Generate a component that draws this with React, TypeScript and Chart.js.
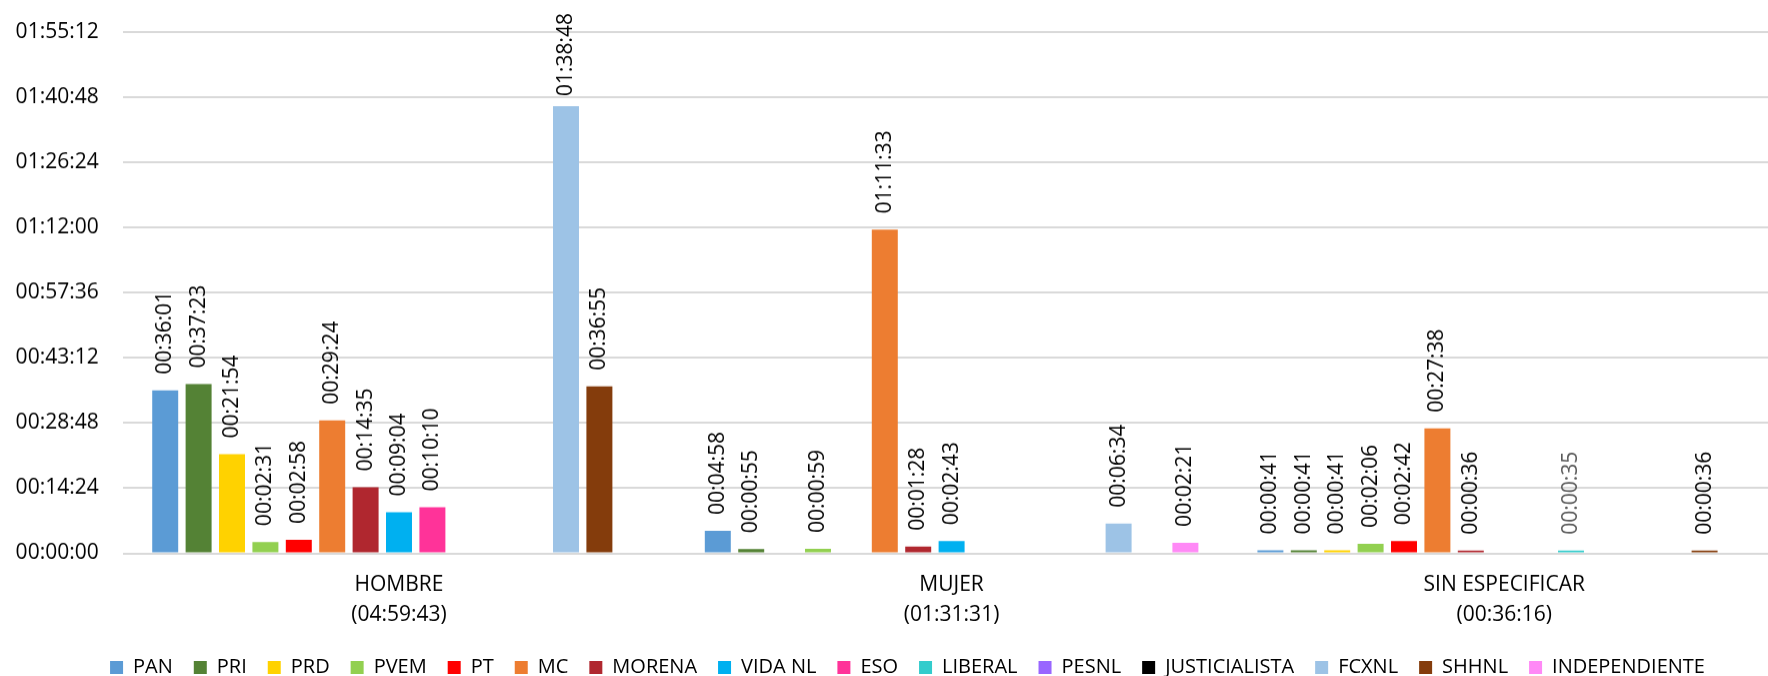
import React, { useEffect, useRef } from "react";
import { Chart, registerables } from "chart.js";

Chart.register(...registerables);

// ---------- DATA ----------
const categories = ["HOMBRE", "MUJER", "SIN ESPECIFICAR"];
const categoryTotals = ["(04:59:43)", "(01:31:31)", "(00:36:16)"];

const seriesNames = [
  "PAN", "PRI", "PRD", "PVEM", "PT", "MC", "MORENA", "VIDA NL", "ESO",
  "LIBERAL", "PESNL", "JUSTICIALISTA", "FCXNL", "SHHNL", "INDEPENDIENTE",
];

const seriesColors = [
  "#5B9BD5", "#548235", "#FFD200", "#92D050", "#FF0000", "#ED7D31", "#B0272F",
  "#00B0F0", "#FF3399", "#33CCCC", "#9966FF", "#000000", "#9DC3E6", "#843C0C",
  "#FF89F6",
];

const labelColors = [
  "#000", "#000", "#000", "#000", "#000", "#000", "#000", "#000", "#000",
  "#595959", "#000", "#000", "#000", "#000", "#000",
];

// values per category: [HOMBRE, MUJER, SIN ESPECIFICAR]
const PAN = ["00:36:01", "00:04:58", "00:00:41"];
const PRI = ["00:37:23", "00:00:55", "00:00:41"];
const PRD = ["00:21:54", null, "00:00:41"];
const PVEM = ["00:02:31", "00:00:59", "00:02:06"];
const PT = ["00:02:58", null, "00:02:42"];
const MC = ["00:29:24", "01:11:33", "00:27:38"];
const MORENA = ["00:14:35", "00:01:28", "00:00:36"];
const VIDA_NL = ["00:09:04", "00:02:43", null];
const ESO = ["00:10:10", null, null];
const LIBERAL = [null, null, "00:00:35"];
const PESNL = [null, null, null];
const JUSTICIALISTA = [null, null, null];
const FCXNL = ["01:38:48", "00:06:34", null];
const SHHNL = ["00:36:55", null, "00:00:36"];
const INDEPENDIENTE = [null, "00:02:21", null];

const seriesValues = [
  PAN, PRI, PRD, PVEM, PT, MC, MORENA, VIDA_NL, ESO,
  LIBERAL, PESNL, JUSTICIALISTA, FCXNL, SHHNL, INDEPENDIENTE,
];

const yAxisMax = "01:55:12";
const yAxisStep = "00:14:24";

// ---------- HELPERS ----------
const FONT = "'Open Sans', 'DejaVu Sans', sans-serif";

function toSec(t: string | null): number | null {
  if (t == null) return null;
  const [h, m, s] = t.split(":").map(Number);
  return h * 3600 + m * 60 + s;
}

function fmt(v: number): string {
  const n = Math.round(v);
  const h = Math.floor(n / 3600);
  const m = Math.floor((n % 3600) / 60);
  const s = n % 60;
  const p = (x: number) => String(x).padStart(2, "0");
  return `${p(h)}:${p(m)}:${p(s)}`;
}

const dataLabelPlugin = {
  id: "verticalDataLabels",
  afterDatasetsDraw(chart: any) {
    const ctx = chart.ctx;
    ctx.save();
    ctx.font = `21px ${FONT}`;
    chart.data.datasets.forEach((ds: any, di: number) => {
      const meta = chart.getDatasetMeta(di);
      if (meta.hidden) return;
      meta.data.forEach((el: any, i: number) => {
        const v = ds.data[i];
        if (v == null) return;
        const text = fmt(v);
        const w = ctx.measureText(text).width;
        let start = el.y - 16;
        if (start - w < 13) start = 13 + w;
        ctx.save();
        ctx.translate(el.x, start);
        ctx.rotate(-Math.PI / 2);
        ctx.textAlign = "left";
        ctx.textBaseline = "middle";
        ctx.fillStyle = labelColors[di];
        ctx.fillText(text, 0, 0);
        ctx.restore();
      });
    });
    ctx.restore();
  },
};

// centre the legend on the full canvas width, not on the padded area
const legendShiftPlugin = {
  id: "legendShift",
  afterLayout(chart: any) {
    const lg = chart.legend;
    if (!lg) return;
    const shift = 17.25;
    lg.left += shift;
    lg.right += shift;
  },
};

export default function App() {
  const canvasRef = useRef<HTMLCanvasElement | null>(null);

  useEffect(() => {
    document.body.style.overflow = "hidden";
    const canvas = canvasRef.current;
    if (!canvas) return;

    const labels = categories.map((c, i) => [c, categoryTotals[i]]);
    const datasets = seriesNames.map((name, i) => ({
      label: name,
      data: seriesValues[i].map(toSec),
      backgroundColor: seriesColors[i],
      borderWidth: 0,
      categoryPercentage: 0.9066,
      barPercentage: 0.778,
    }));

    const chart = new Chart(canvas, {
      type: "bar",
      data: { labels, datasets },
      plugins: [dataLabelPlugin, legendShiftPlugin],
      options: {
        animation: false,
        responsive: true,
        maintainAspectRatio: false,
        layout: { padding: { top: 32, right: 34.5, bottom: 0, left: 0 } },
        plugins: {
          tooltip: { enabled: false },
          legend: {
            position: "bottom",
            labels: {
              boxWidth: 13,
              boxHeight: 13,
              padding: 21,
              color: "#000",
              font: { family: FONT, size: 20 },
            },
          },
        },
        scales: {
          x: {
            grid: { display: false, drawTicks: false },
            border: { display: false },
            ticks: {
              color: "#000",
              font: { family: FONT, size: 21, lineHeight: 1.4 },
              padding: 17,
              maxRotation: 0,
              autoSkip: false,
            },
            afterFit(scale: any) {
              scale.height = 83;
            },
          },
          y: {
            min: 0,
            max: toSec(yAxisMax) as number,
            border: { display: false },
            grid: { color: "#D9D9D9", lineWidth: 2, drawTicks: false },
            ticks: {
              stepSize: toSec(yAxisStep) as number,
              color: "#000",
              font: { family: FONT, size: 21 },
              padding: 24,
              callback: (v: any) => fmt(Number(v)),
            },
            afterFit(scale: any) {
              scale.width = 122.7;
              scale.paddingTop = 0;
              scale.paddingBottom = 0;
            },
          },
        },
      },
    });

    return () => chart.destroy();
  }, []);

  return (
    <div
      style={{
        position: "fixed",
        left: 0,
        top: 0,
        width: 1815,
        height: 686.5,
        background: "#fff",
      }}
    >
      <canvas ref={canvasRef} />
    </div>
  );
}
